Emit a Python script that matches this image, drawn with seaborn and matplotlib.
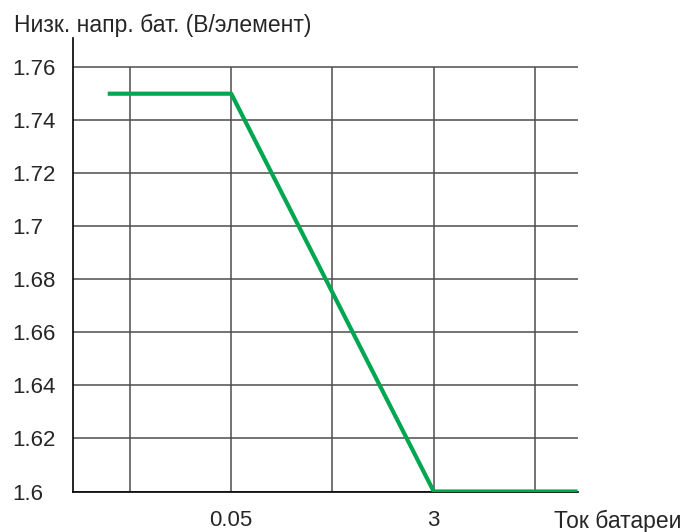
import matplotlib
matplotlib.use('Agg')
import matplotlib.pyplot as plt
import seaborn as sns
import pandas as pd

# --- DATA ---
# x positions on the chart grid (vertical grid lines sit at 1..5)
x_pos = [0.78, 2, 4, 5.42]
voltage = [1.75, 1.75, 1.6, 1.6]
x_tick_pos = [2, 4]
x_tick_labels = ['0.05', '3']
grid_x = [1, 2, 3, 4, 5]
y_ticks = [1.6, 1.62, 1.64, 1.66, 1.68, 1.7, 1.72, 1.74, 1.76]
y_tick_labels = ['1.6', '1.62', '1.64', '1.66', '1.68', '1.7', '1.72', '1.74', '1.76']

sns.set_style('white')
plt.rcParams['font.family'] = ['Liberation Sans', 'DejaVu Sans']

fig = plt.figure(figsize=(6.88, 5.32), dpi=100)
ax = fig.add_axes([73 / 688, 1 - 491.5 / 532, (578 - 73) / 688, (491.5 - 38) / 532])

# grid
for y in y_ticks:
    ax.axhline(y, color='#4d4d4d', lw=1.1, zorder=1)
ax.vlines(grid_x, 1.6, 1.76, color='#4d4d4d', lw=1.1, zorder=1)

df = pd.DataFrame({'x': x_pos, 'v': voltage})
sns.lineplot(data=df, x='x', y='v', color='#00a650', lw=3.0, ax=ax, zorder=3,
             solid_capstyle='butt')

ax.set_xlim(73 / 101.25 - 130 / 101.25 + 1, 5 + 43 / 101.25)
ax.set_ylim(1.6, 1.771)
ax.set_yticks(y_ticks)
ax.set_yticklabels(y_tick_labels, ha='left')
ax.set_xticks(x_tick_pos)
ax.set_xticklabels(x_tick_labels)
ax.tick_params(axis='y', length=0, pad=44, labelsize=16)
ax.tick_params(axis='x', length=0, pad=13, labelsize=16)
ax.set_xlabel('')
ax.set_ylabel('')

for s in ['top', 'right']:
    ax.spines[s].set_visible(False)
ax.spines['left'].set_color('black')
ax.spines['bottom'].set_color('black')
ax.spines['left'].set_linewidth(1.2)
ax.spines['bottom'].set_linewidth(1.2)

fig.text(14 / 688, 1 - 32 / 532, 'Низк. напр. бат. (В/элемент)', fontsize=16.5,
         ha='left', va='baseline')
fig.text(618 / 688, 1 - 528 / 532, 'Ток батареи', fontsize=16.5,
         ha='center', va='baseline')

fig.savefig('out.png', dpi=100)
